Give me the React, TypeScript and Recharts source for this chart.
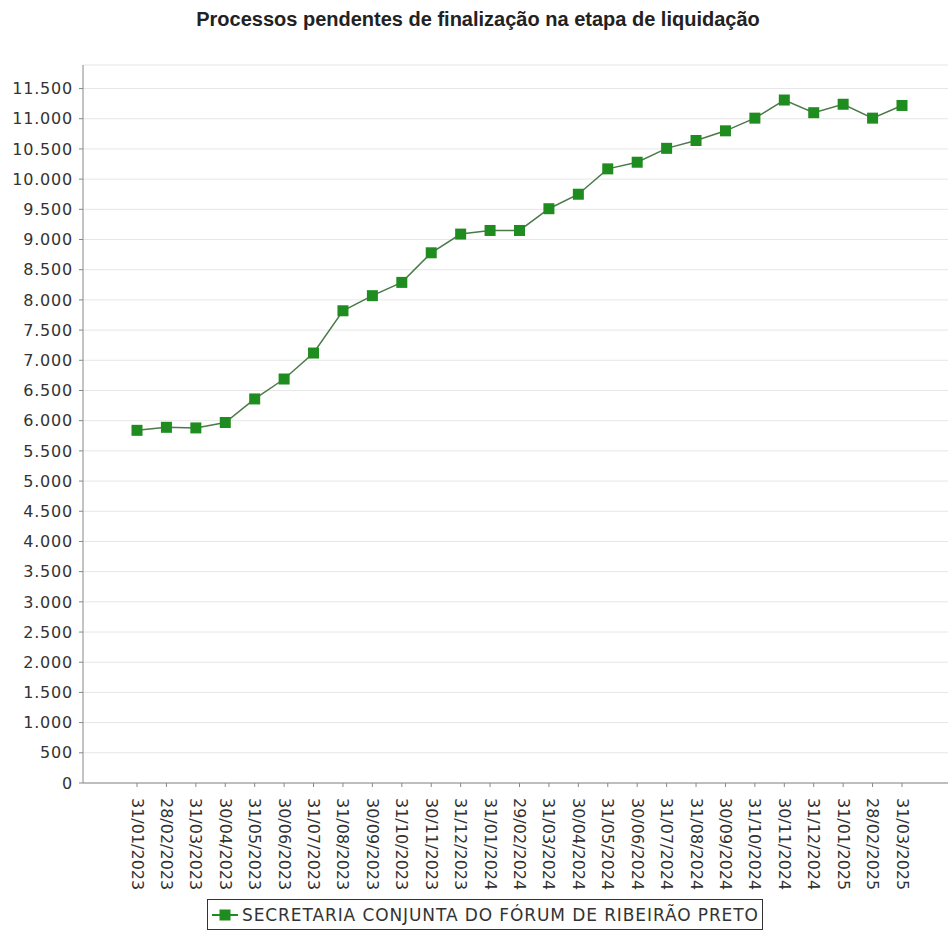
import { CartesianGrid, Legend, Line, LineChart, XAxis, YAxis } from 'recharts'

const months = [
  '31/01/2023', '28/02/2023', '31/03/2023', '30/04/2023', '31/05/2023', '30/06/2023',
  '31/07/2023', '31/08/2023', '30/09/2023', '31/10/2023', '30/11/2023', '31/12/2023',
  '31/01/2024', '29/02/2024', '31/03/2024', '30/04/2024', '31/05/2024', '30/06/2024',
  '31/07/2024', '31/08/2024', '30/09/2024', '31/10/2024', '30/11/2024', '31/12/2024',
  '31/01/2025', '28/02/2025', '31/03/2025',
]

const pending = [
  5840, 5890, 5880, 5970, 6360, 6690, 7120, 7820, 8070, 8290, 8780, 9090,
  9150, 9150, 9510, 9750, 10170, 10280, 10510, 10640, 10800, 11010, 11310, 11100,
  11240, 11010, 11220,
]

const yTicks = [
  0, 500, 1000, 1500, 2000, 2500, 3000, 3500, 4000, 4500, 5000, 5500,
  6000, 6500, 7000, 7500, 8000, 8500, 9000, 9500, 10000, 10500, 11000, 11500,
]

const title = 'Processos pendentes de finalização na etapa de liquidação'
const seriesName = 'SECRETARIA CONJUNTA DO FÓRUM DE RIBEIRÃO PRETO'

const data = months.map((date, i) => ({ date, value: pending[i] }))

const FONT = '"DejaVu Sans", sans-serif'
const GREEN = '#1f8c1f'

const fmt = (v: number) => String(v).replace(/\B(?=(\d{3})+(?!\d))/g, '.')

function DateTick({ x, y, payload }: any) {
  return (
    <g transform={`translate(${x},${y + 9})`}>
      <text
        transform='rotate(90)'
        textAnchor='start'
        dominantBaseline='central'
        fontSize={16}
        fontFamily={FONT}
        fill='#333'
      >
        {payload.value}
      </text>
    </g>
  )
}

function SquareDot({ cx, cy, index }: any) {
  return <rect key={`d${index}`} x={cx - 5.5} y={cy - 5.5} width={11} height={11} fill={GREEN} />
}

function LegendBox() {
  return (
    <div style={{ width: 950, height: 31 }}>
      <div
        style={{
          marginLeft: 207,
          width: 556,
          height: 31,
          boxSizing: 'border-box',
          border: '1px solid #333',
          display: 'flex',
          alignItems: 'center',
          fontFamily: FONT,
          fontSize: 17,
          letterSpacing: 0.9,
          color: '#333',
          whiteSpace: 'nowrap',
        }}
      >
        <svg width={30} height={14} style={{ marginLeft: 2, marginRight: 2 }}>
          <line x1={2} y1={7} x2={28} y2={7} stroke={GREEN} strokeWidth={2} />
          <rect x={9.5} y={1.5} width={11} height={11} fill={GREEN} />
        </svg>
        <span>{seriesName}</span>
      </div>
    </div>
  )
}

export default function App() {
  return (
    <div style={{ position: 'absolute', left: 0, top: 0, width: 950, height: 930, background: '#fff' }}>
      <div
        style={{
          position: 'absolute',
          top: 8,
          left: 0,
          width: 956,
          textAlign: 'center',
          fontFamily: '"Liberation Sans", Arial, sans-serif',
          fontWeight: 'bold',
          fontSize: 20,
          color: '#222',
        }}
      >
        {title}
      </div>
      <LineChart width={950} height={930} data={data} margin={{ top: 65, right: 2, left: 0, bottom: 0 }}>
        <CartesianGrid vertical={false} stroke='#e6e6e6' />
        <XAxis
          dataKey='date'
          scale='point'
          padding={{ left: 54, right: 46 }}
          height={116}
          interval={0}
          stroke='#888'
          tickSize={4}
          tick={<DateTick />}
        />
        <YAxis
          width={83}
          domain={[0, 11890]}
          ticks={yTicks}
          interval={0}
          stroke='#888'
          tickSize={4}
          tickMargin={6}
          tickFormatter={fmt}
          tick={{ fontSize: 16, fontFamily: FONT, fill: '#333', letterSpacing: 0.8 }}
        />
        <Legend verticalAlign='bottom' height={31} content={<LegendBox />} wrapperStyle={{ left: 0, width: 950 }} />
        <Line
          dataKey='value'
          name={seriesName}
          stroke='#4a7a4a'
          strokeWidth={1.5}
          dot={<SquareDot />}
          activeDot={false}
          isAnimationActive={false}
        />
      </LineChart>
    </div>
  )
}
